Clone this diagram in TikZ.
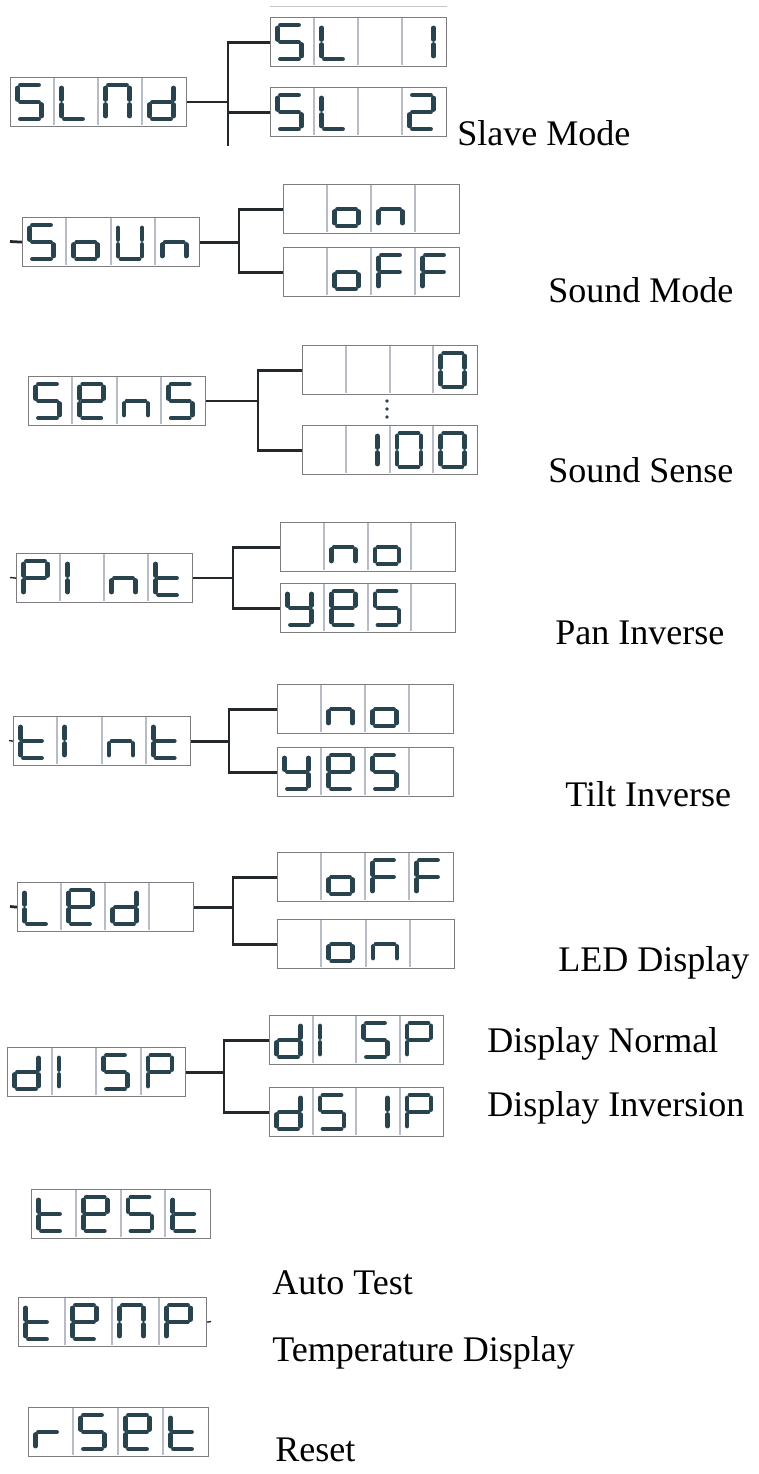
\documentclass[tikz,border=0pt]{standalone}
\usepackage{fontspec}
\setmainfont{Liberation Serif}

\definecolor{lcdink}{RGB}{40,66,78}
\definecolor{lcdline}{RGB}{34,40,44}
\definecolor{lcdrim}{RGB}{125,125,128}
\definecolor{lcdsep}{RGB}{184,188,200}

% segments of one glyph: a top, b/c right, d bottom, e/f left, g middle
\newcommand\defglyph[2]{\expandafter\def\csname lcdglyph#1\endcsname{#2}}
\defglyph{blank}{z}
\defglyph{S}{a,f,g,c,d}
\defglyph{L}{f,e,d}
\defglyph{N}{e,f,a,b,c}
\defglyph{d}{b,c,d,e,g}
\defglyph{o}{c,d,e,g}
\defglyph{U}{b,c,d,e,f}
\defglyph{n}{c,e,g}
\defglyph{F}{a,f,g,e}
\defglyph{e}{a,b,d,e,f,g}
\defglyph{P}{a,b,e,f,g}
\defglyph{I}{e,f}
\defglyph{1}{b,c}
\defglyph{t}{d,e,f,g}
\defglyph{y}{b,c,d,f,g}
\defglyph{r}{e,g}
\defglyph{0}{a,b,c,d,e,f}
\defglyph{2}{a,b,g,e,d}

\tikzset{
  lcd/.style={draw=lcdrim, line width=0.25mm, minimum height=9.8mm, inner sep=0pt, anchor=north west},
  lcddiv/.style={draw=lcdsep, line width=0.4mm},
  lcdseg/.style={draw=lcdink, line width=0.96mm, line cap=round},
  link/.style={draw=lcdline, line width=0.28mm},
  heavylink/.style={draw=lcdline, line width=0.55mm},
  fork/.style={draw=lcdline, line width=0.55mm},
  modetext/.style={anchor=base west, inner sep=0pt, font=\fontsize{20.5}{24}\selectfont},
  sega/.pic={\draw[lcdseg] (3,0) -- (21,0);},
  segb/.pic={\draw[lcdseg] (24,3) -- (24,14.5);},
  segc/.pic={\draw[lcdseg] (24,19.5) -- (24,31);},
  segd/.pic={\draw[lcdseg] (3,34) -- (21,34);},
  sege/.pic={\draw[lcdseg] (0,19.5) -- (0,31);},
  segf/.pic={\draw[lcdseg] (0,3) -- (0,14.5);},
  segg/.pic={\draw[lcdseg] (3,17) -- (21,17);},
  segz/.pic={},
}

% \lcd[width]{name}{x}{y}{four glyphs}
\newcommand\lcd[5][176]{%
  \node[lcd, minimum width=#1*0.2mm] (#2) at (#3,#4) {};
  \foreach \g [count=\i from 0] in {#5} {
    \pgfmathsetmacro\cx{#3+\i*#1/4}
    \ifnum\i>0 \draw[lcddiv] (\cx,#4+1) -- (\cx,#4+48); \fi
    \expandafter\let\expandafter\segs\csname lcdglyph\g\endcsname
    \foreach \s in \segs {\pic at (\cx+7.5,#4+8) {seg\s};}
  }
}

\begin{document}
\begin{tikzpicture}[x=0.2mm,y=-0.2mm]
\path[fill=white, use as bounding box] (0,0) rectangle (758,1474);

% slave mode
\lcd{slnd}{10}{77}{S,L,N,d}
\lcd{sl1}{270}{17}{S,L,blank,1}
\lcd{sl2}{270}{87}{S,L,blank,2}
\draw[draw=gray!45, line width=0.2mm] ([yshift=2mm]sl1.north west) -- ([yshift=2mm]sl1.north east);
\coordinate (slend) at (228,146);
\draw[fork] (sl1.west) -| (slend);
\draw[fork] (sl2.west) -- (sl2.west -| slend);
\draw[link] (slnd.east) -- (slnd.east -| slend);
\node[modetext] (slave) at (457,145) {Slave Mode};

% sound mode
\lcd[177]{soun}{22}{217}{S,o,U,n}
\lcd{on1}{283}{184}{blank,o,n,blank}
\lcd{off1}{283}{247}{blank,o,F,F}
\draw[fork] (on1.west) -- ++(-44,0) coordinate (sounj) |- (off1.west);
\draw[heavylink] (soun.east) -- (soun.east -| sounj);
\coordinate (sounin) at (10,241.5);
\draw[heavylink] (sounin) -- (soun.west);
\node[modetext] (soundmode) at (548,302) {Sound Mode};

% sound sense
\lcd[177]{sens}{28}{376}{S,e,n,S}
\lcd[175]{sen0}{302}{345}{blank,blank,blank,0}
\lcd[175]{sen100}{302}{425}{blank,1,0,0}
\draw[fork] (sen0.west) -- ++(-44,0) coordinate (sensj) |- (sen100.west);
\draw[link] (sens.east) -- (sens.east -| sensj);
\foreach \y in {401,409,417}
  \fill[lcdink] (387,\y) circle[radius=1.8];
\node[modetext] (soundsense) at (548,482) {Sound Sense};

% pan inverse
\lcd{pint}{16}{553}{P,I,n,t}
\lcd[175]{no1}{280}{522}{blank,n,o,blank}
\lcd[175]{yes1}{280}{583}{y,e,S,blank}
\draw[fork] (no1.west) -- ++(-47,0) coordinate (pintj) |- (yes1.west);
\draw[link] (pint.east) -- (pint.east -| pintj);
\coordinate (pintin) at (10,577.5);
\draw[link] (pintin) -- (pint.west);
\node[modetext] (paninv) at (555,644) {Pan Inverse};

% tilt inverse
\lcd[177]{tint}{13}{716}{t,I,n,t}
\lcd{no2}{277}{684}{blank,n,o,blank}
\lcd{yes2}{277}{747}{y,e,S,blank}
\draw[fork] (no2.west) -- ++(-48,0) coordinate (tintj) |- (yes2.west);
\draw[heavylink] (tint.east) -- (tint.east -| tintj);
\coordinate (tintin) at (9,740.5);
\draw[link] (tintin) -- (tint.west);
\node[modetext] (tiltinv) at (565,806) {Tilt Inverse};

% led display
\lcd{led}{17}{882}{L,e,d,blank}
\lcd{off2}{277}{852}{blank,o,F,F}
\lcd[177]{on2}{277}{919}{blank,o,n,blank}
\draw[fork] (off2.west) -- ++(-44,0) coordinate (ledj) |- (on2.west);
\draw[heavylink] (led.east) -- (led.east -| ledj);
\coordinate (ledin) at (10,906.5);
\draw[heavylink] (ledin) -- (led.west);
\node[modetext] (leddisp) at (558,971) {LED Display};

% display inversion
\lcd[178]{disp}{7}{1047}{d,I,S,P}
\lcd[174]{dnorm}{269}{1015}{d,I,S,P}
\lcd[174]{dinv}{269}{1087}{d,S,1,P}
\draw[fork] (dnorm.west) -- ++(-45,0) coordinate (dispj) |- (dinv.west);
\draw[heavylink] (disp.east) -- (disp.east -| dispj);
\node[modetext] (normal) at (487,1052) {Display Normal};
\node[modetext] (inversion) at (487,1116) {Display Inversion};

% single items
\lcd[179]{test}{31}{1189}{t,e,S,t}
\node[modetext] (autotest) at (272,1294) {Auto Test};
\lcd[188]{temp}{18}{1297}{t,e,N,P}
\coordinate (tempout) at (211,1321.5);
\draw[link] (temp.east) -- (tempout);
\node[modetext] (tempdisp) at (272,1361) {Temperature Display};
\lcd[180]{rset}{28}{1407}{r,S,e,t}
\node[modetext] (reset) at (275,1461) {Reset};
\end{tikzpicture}
\end{document}
